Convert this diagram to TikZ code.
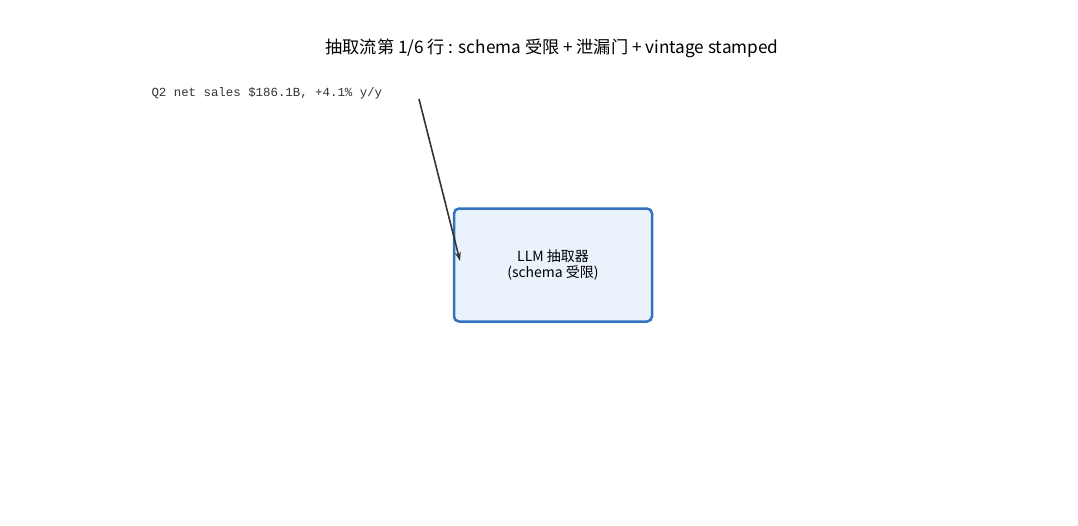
\documentclass[tikz,border=0pt]{standalone}
\usepackage{fontspec}
\setmainfont{Noto Sans CJK SC}
\newfontfamily\monofont{Liberation Mono}
\usetikzlibrary{arrows.meta,positioning}
\definecolor{boxline}{HTML}{3272BE}
\definecolor{boxfill}{HTML}{EAF2FB}
\definecolor{arrowgray}{HTML}{333333}
\tikzset{
  titletext/.style={font=\fontsize{17.2}{20}\selectfont, text=black},
  rawtext/.style={font=\monofont\fontsize{12.4}{14}\selectfont, text=black!80, anchor=west},
  procbox/.style={draw=boxline, line width=2.5pt, fill=boxfill, rounded corners=5pt,
    minimum width=198pt, minimum height=113pt, align=center, font=\fontsize{14}{16}\selectfont},
  flow/.style={-{Stealth[length=9pt,width=6pt]}, line width=1.6pt, draw=arrowgray},
}
\begin{document}
\begin{tikzpicture}[x=1pt,y=-1pt]
\useasboundingbox (0,0) rectangle (1078,525);
%
\node [titletext] at (552,48) (title) {抽取流第 1/6 行 : schema 受限 + 泄漏门 + vintage stamped};
\node [rawtext] at (148,93) (raw) {Q2 net sales \$186.1B, +4.1\% y/y};
\node [procbox] at (553,265) (llm) {LLM 抽取器\\(schema 受限)};
%
\coordinate (src) at (419,99);
\coordinate (dst) at (460,261);
\draw [flow] (src) -- (dst);
\end{tikzpicture}
\end{document}
